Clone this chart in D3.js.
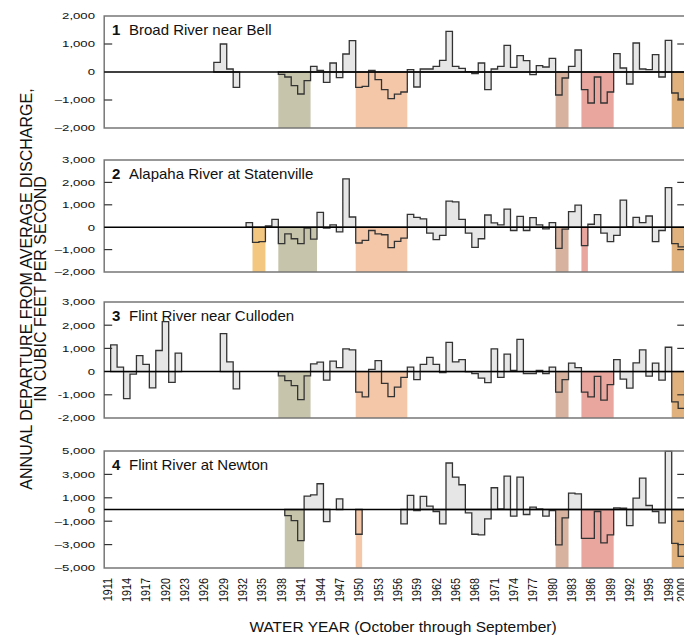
<!DOCTYPE html>
<html>
<head>
<meta charset="utf-8">
<script src="https://d3js.org/d3.v7.min.js"></script>
<style>
  body { margin: 0; background: #fff; }
  text { font-family: "Liberation Sans", Arial, Helvetica, sans-serif; fill: #111; }
  .area { fill: #e6e6e6; stroke: none; }
  .outline { fill: none; stroke: #333; stroke-width: 1.3px; stroke-linejoin: miter; }
  .zero { stroke: #000; stroke-width: 1.5px; }
  .frame { stroke: #777; stroke-width: 1.5px; fill: none; }
  .tick { stroke: #333; stroke-width: 1.2px; }
</style>
</head>
<body>
<script>
// ---- data (annual departure from average discharge, cfs) ----
var broadStart = 1928
var broadValues = [345, 1000, 107, -547, null, null, null, null, null, null,
  -83, -178, -488, -785, -309, 202, 60, -369, 321, -202, 643, 1119,
  -547, -510, 60, -274, -630, -950, -790, -714, 83, -535,
  107, 107, 202, 417, 1452, 202, 131, 12, -60, 321,
  -631, 107, 202, 952, 167, 583, 405, -95, 226, 179,
  488, -821, -214, 202, 785, -631, -1107, -178, -1107, -714,
  655, 143, -428, 1035, 107, 83, 619, -178, 1130, -750, -964]
var broadDroughts = [[1938, 1942, "d1940"], [1950, 1957, "d1950"], [1981, 1982, "d1981"], [1985, 1989, "d1986"], [1999, 2001, "d1999"]]

var alapahaStart = 1933
var alapahaValues = [206, -676, -647, 60, 353, -735, -294, -515, -735, -44, -529,
  662, -40, 103, -206, 2160, 456, -705, -588, -147, -294, -338, -910, -632, -485,
  573, 441, 368, -265, -559, -368, 1161, 1132, 353, -265, -897, -515,
  544, 191, 103, 809, -147, 485, -147, 426, 103, -73, 206,
  -941, -88, 691, 985, -823, 132, 559, -265, -647, -368,
  1205, 20, 441, 206, 500, -647, -147, 1764, -735, -882]
var alapahaDroughts = [[1934, 1935, "d1934"], [1938, 1943, "d1940"], [1950, 1957, "d1950"], [1981, 1982, "d1981"], [1985, 1985, "d1986"], [1999, 2001, "d1999"]]

var cullodenStart = 1912
var cullodenValues = [1148, 196, -1162, -112, 686, 308, -700, 910, 2156, -462, 798,
  null, null, null, null, null, null, 1638, 420, -742, null, null, null, null, null, null,
  -182, -392, -602, -1204, -182, 336, 406, -364, 448, 168, 980, 938,
  -882, -1092, 98, 476, -504, -1080, -672, -252, 196, -350,
  308, 616, 308, -42, 1260, 420, 518, -14, -84, -280,
  -476, 980, -252, 756, 56, 1386, -84, -84, 56, -84,
  196, -882, -350, 364, 168, -882, -1092, -210, -1232, -560,
  518, -322, -714, 378, 938, -196, 364, -364, 1050, -1302, -1582]
var cullodenDroughts = [[1938, 1942, "d1940"], [1950, 1957, "d1950"], [1981, 1982, "d1981"], [1985, 1989, "d1986"], [1999, 2001, "d1999"]]

var newtonStart = 1939
var newtonValues = [-515, -944, -2660, 1144, 1258, 2202, -1030, null, 915, null, null,
  -2116, null, null, null, null, null, null, -1230, 1201, -86,
  1115, 286, -172, -1230, 3975, 2774, 2116, -286, -2116, -2174,
  -801, 1859, 57, 2860, -572, 2774, -429, 200, 57, -572,
  -86, -3032, -715, 1401, 1344, -2460, -2460, -172, -2860, -2174,
  143, 114, -1373, 972, 2688, 343, -172, -1144, 4976, -2889, -4004]
var newtonDroughts = [[1939, 1941, "d1940"], [1950, 1950, "d1950"], [1981, 1982, "d1981"], [1985, 1989, "d1986"], [1999, 2001, "d1999"]]

var panelNames = ["Broad River near Bell", "Alapaha River at Statenville", "Flint River near Culloden", "Flint River at Newton"]
var ticks12 = [2000, 1000, 0, -1000, -2000]
var ticks23 = [3000, 2000, 1000, 0, -1000, -2000]
var ticks4 = [5000, 3000, 1000, 0, -1000, -3000, -5000]
var yearTicks = d3.range(1911, 2000, 3).concat([2000])

// ---- drawing ----
var width = 684, height = 637

var droughtColor = {
  d1934: "#f3c77f",
  d1940: "#c6c4ab",
  d1950: "#f4c7a8",
  d1981: "#d7b29f",
  d1986: "#e9a69f",
  d1999: "#e0b17d"
}

var svg = d3.select("body").append("svg")
  .attr("width", width)
  .attr("height", height)

var x = d3.scaleLinear()
  .domain([1910.5, 2000.6])
  .range([104.2, 104.2 + 90.1 * 6.449])

var panels = [
  {start: broadStart, values: broadValues, droughts: broadDroughts, top: 16, bottom: 128, dom: [-2000, 2000], ticks: ticks12, minus: "\u2013"},
  {start: alapahaStart, values: alapahaValues, droughts: alapahaDroughts, top: 160, bottom: 272, dom: [-2000, 3000], ticks: ticks23, minus: "\u2013"},
  {start: cullodenStart, values: cullodenValues, droughts: cullodenDroughts, top: 302, bottom: 418, dom: [-2000, 3000], ticks: ticks23, minus: "-"},
  {start: newtonStart, values: newtonValues, droughts: newtonDroughts, top: 451, bottom: 568, dom: [-5000, 5000], ticks: ticks4, minus: "\u2013"}
]

var x0 = x.range()[0], x1 = x.range()[1]
var comma = d3.format(",")

panels.forEach(function(p, pi) {
  var y = d3.scaleLinear().domain(p.dom).range([p.bottom, p.top])
  var g = svg.append("g")

  // split the series into runs of consecutive years
  var runs = [], cur = []
  p.values.forEach(function(v, i) {
    if (v === null) {
      if (cur.length) runs.push(cur)
      cur = []
    } else {
      cur.push({year: p.start + i, v: v})
    }
  })
  if (cur.length) runs.push(cur)

  var area = d3.area()
    .curve(d3.curveStepAfter)
    .x(function(d) { return x(d[0]) })
    .y0(y(0))
    .y1(function(d) { return y(d[1]) })

  var runPts = runs.map(function(r) {
    var pts = r.map(function(d) { return [d.year - 0.5, d.v] })
    var last = r[r.length - 1]
    pts.push([last.year + 0.5, last.v])
    return pts
  })

  g.selectAll("path.area").data(runPts).enter().append("path")
    .attr("class", "area")
    .attr("d", area)

  // drought shading, zero line down to the bottom of the panel
  g.selectAll("rect.drought").data(p.droughts).enter().append("rect")
    .attr("class", "drought")
    .attr("x", function(d) { return x(d[0] - 0.5) })
    .attr("width", function(d) { return Math.min(x(d[1] + 0.5), x1) - x(d[0] - 0.5) })
    .attr("y", y(0))
    .attr("height", p.bottom - y(0))
    .attr("fill", function(d) { return droughtColor[d[2]] })

  g.selectAll("path.outline").data(runPts).enter().append("path")
    .attr("class", "outline")
    .attr("d", area)

  // frame: top, left, bottom
  g.append("path").attr("class", "frame")
    .attr("d", "M" + x1 + "," + p.top + "H" + x0 + "V" + p.bottom + "H" + x1)

  g.append("line").attr("class", "zero")
    .attr("x1", x0).attr("x2", x1)
    .attr("y1", y(0)).attr("y2", y(0))

  var inner = p.ticks.filter(function(t) { return t !== 0 && t !== p.dom[0] && t !== p.dom[1] })
  g.selectAll("line.tl").data(inner).enter().append("line")
    .attr("class", "tick")
    .attr("x1", x0).attr("x2", x0 + 8)
    .attr("y1", function(d) { return y(d) }).attr("y2", function(d) { return y(d) })
  g.selectAll("line.tr").data(inner).enter().append("line")
    .attr("class", "tick")
    .attr("x1", x1 - 8).attr("x2", x1)
    .attr("y1", function(d) { return y(d) }).attr("y2", function(d) { return y(d) })

  g.selectAll("text.ylab").data(p.ticks).enter().append("text")
    .attr("class", "ylab")
    .attr("transform", function(d) { return "translate(95," + y(d) + ") scale(1.4,1)" })
    .attr("dy", "0.36em")
    .attr("text-anchor", "end")
    .style("font-size", "9.4px")
    .text(function(d) { return d < 0 ? p.minus + comma(-d) : comma(d) })

  var title = g.append("text")
    .attr("x", 112)
    .attr("y", p.top + 19)
    .style("font-size", "15px")
  title.append("tspan").style("font-weight", "bold").text(pi + 1)
  title.append("tspan").attr("x", 129).text(panelNames[pi])
})

// year labels along the bottom
svg.selectAll("text.year").data(yearTicks).enter().append("text")
  .attr("class", "year")
  .attr("transform", function(d) { return "translate(" + x(d) + ",578) scale(1.1,1) rotate(-90)" })
  .attr("dy", "0.36em")
  .attr("text-anchor", "end")
  .style("font-size", "10.8px")
  .text(function(d) { return d })

svg.append("text")
  .attr("x", 403)
  .attr("y", 632)
  .attr("text-anchor", "middle")
  .style("font-size", "15.5px")
  .text("WATER YEAR (October through September)")

var yt = svg.append("text")
  .attr("transform", "translate(0,289) rotate(-90)")
  .attr("text-anchor", "middle")
  .style("font-size", "16px")
yt.append("tspan").attr("x", 0).attr("y", 31.5).text("ANNUAL DEPARTURE FROM AVERAGE DISCHARGE,")
yt.append("tspan").attr("x", 0).attr("y", 45.5).text("IN CUBIC FEET PER SECOND")
</script>
</body>
</html>
